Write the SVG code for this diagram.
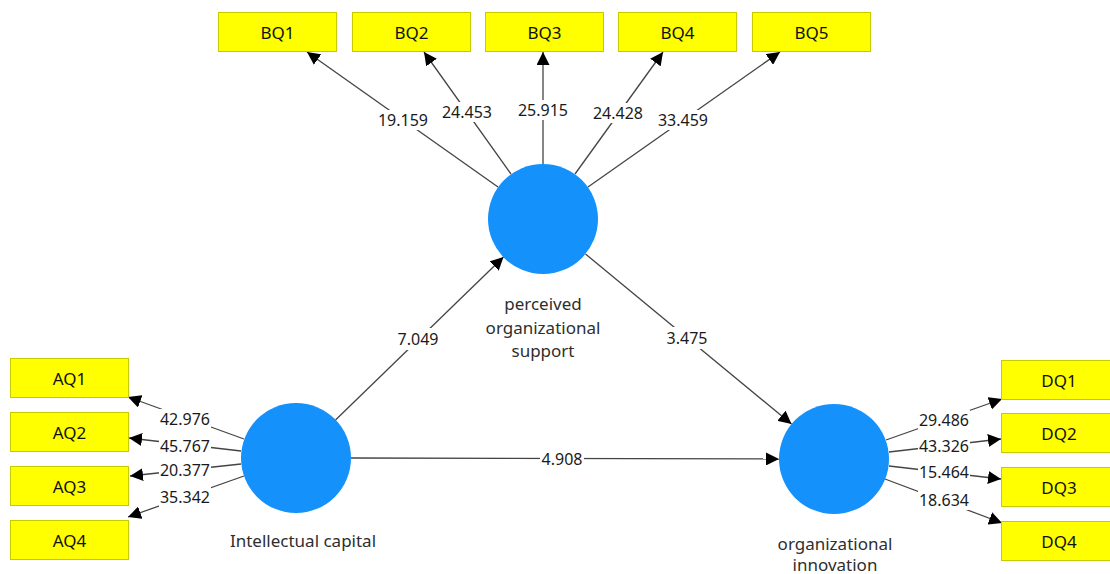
<svg xmlns="http://www.w3.org/2000/svg" width="1110" height="574" viewBox="0 0 1110 574">
<style>
.box{fill:#ffff00;stroke:#c9c900;stroke-width:1}
.bt{font-family:"Noto Sans","Open Sans",sans-serif;font-size:17px;fill:#111;text-anchor:middle;dominant-baseline:central}
.lv{fill:#1591fb}
.nm{font-family:"Noto Sans","Open Sans",sans-serif;font-size:17px;fill:#2e2e2e;text-anchor:middle;dominant-baseline:central}
.ln{stroke:#444;stroke-width:1.3;fill:none;marker-end:url(#ah)}
.lb{fill:#fff}
.lt{font-family:"Noto Sans","Open Sans",sans-serif;font-size:16px;fill:#1a1a1a;text-anchor:middle;dominant-baseline:central}
</style>
<defs>
<marker id="ah" markerWidth="13" markerHeight="13" viewBox="0 0 13 13" refX="13" refY="6.5" orient="auto" markerUnits="userSpaceOnUse"><path d="M0,0 L13,6.5 L0,13 z" fill="#000"/></marker>
</defs>
<rect width="1110" height="574" fill="#fff"/>
<g id="connectors">
<line class="ln" x1="498" y1="187" x2="307" y2="52"/>
<line class="ln" x1="511" y1="174" x2="424" y2="52"/>
<line class="ln" x1="543" y1="164" x2="543" y2="52"/>
<line class="ln" x1="575" y1="174" x2="663" y2="52"/>
<line class="ln" x1="588" y1="187" x2="780" y2="52"/>
<line class="ln" x1="244" y1="439" x2="128" y2="397"/>
<line class="ln" x1="241" y1="451" x2="129" y2="438"/>
<line class="ln" x1="241" y1="464" x2="130" y2="476"/>
<line class="ln" x1="244" y1="476" x2="128" y2="517"/>
<line class="ln" x1="886" y1="440" x2="1002" y2="399"/>
<line class="ln" x1="889" y1="452" x2="1001" y2="439"/>
<line class="ln" x1="889" y1="466" x2="1001" y2="479"/>
<line class="ln" x1="885" y1="479" x2="1002" y2="523"/>
<line class="ln" x1="335.5" y1="420" x2="503.5" y2="257"/>
<line class="ln" x1="585.5" y1="254" x2="791.5" y2="424"/>
<line class="ln" x1="351" y1="458" x2="779" y2="459"/>
<g id="labels">
<rect class="lb" x="377" y="110" width="52" height="20"/><text class="lt" x="403" y="120">19.159</text>
<rect class="lb" x="441" y="102" width="52" height="20"/><text class="lt" x="467" y="112">24.453</text>
<rect class="lb" x="517" y="100" width="52" height="20"/><text class="lt" x="543" y="110">25.915</text>
<rect class="lb" x="592" y="103" width="52" height="20"/><text class="lt" x="618" y="113">24.428</text>
<rect class="lb" x="657" y="110" width="52" height="20"/><text class="lt" x="683" y="120">33.459</text>
<rect class="lb" x="159" y="409" width="52" height="20"/><text class="lt" x="185" y="419">42.976</text>
<rect class="lb" x="159" y="436" width="52" height="20"/><text class="lt" x="185" y="446">45.767</text>
<rect class="lb" x="159" y="460" width="52" height="20"/><text class="lt" x="185" y="470">20.377</text>
<rect class="lb" x="159" y="487" width="52" height="20"/><text class="lt" x="185" y="497">35.342</text>
<rect class="lb" x="918" y="410" width="52" height="20"/><text class="lt" x="944" y="420">29.486</text>
<rect class="lb" x="918" y="436" width="52" height="20"/><text class="lt" x="944" y="446">43.326</text>
<rect class="lb" x="918" y="462" width="52" height="20"/><text class="lt" x="944" y="472">15.464</text>
<rect class="lb" x="918" y="490" width="52" height="20"/><text class="lt" x="944" y="500">18.634</text>
<rect class="lb" x="396" y="328" width="44" height="22"/><text class="lt" x="418" y="339">7.049</text>
<rect class="lb" x="665" y="327" width="44" height="22"/><text class="lt" x="687" y="338">3.475</text>
<rect class="lb" x="540" y="448" width="44" height="21"/><text class="lt" x="562" y="458.5">4.908</text>
</g>
</g>
<g id="BQ1"><rect class="box" x="218.5" y="12.5" width="118" height="39"/><text class="bt" x="277.5" y="32">BQ1</text></g>
<g id="BQ2"><rect class="box" x="352.5" y="12.5" width="118" height="39"/><text class="bt" x="411.5" y="32">BQ2</text></g>
<g id="BQ3"><rect class="box" x="485.5" y="12.5" width="118" height="39"/><text class="bt" x="544.5" y="32">BQ3</text></g>
<g id="BQ4"><rect class="box" x="618.5" y="12.5" width="118" height="39"/><text class="bt" x="677.5" y="32">BQ4</text></g>
<g id="BQ5"><rect class="box" x="752.5" y="12.5" width="118" height="39"/><text class="bt" x="811.5" y="32">BQ5</text></g>
<g id="AQ1"><rect class="box" x="10.5" y="358.5" width="118" height="39"/><text class="bt" x="69.5" y="378">AQ1</text></g>
<g id="AQ2"><rect class="box" x="10.5" y="412.5" width="118" height="39"/><text class="bt" x="69.5" y="432">AQ2</text></g>
<g id="AQ3"><rect class="box" x="10.5" y="466.5" width="118" height="39"/><text class="bt" x="69.5" y="486">AQ3</text></g>
<g id="AQ4"><rect class="box" x="10.5" y="520.5" width="118" height="39"/><text class="bt" x="69.5" y="540">AQ4</text></g>
<g id="DQ1"><rect class="box" x="1001.5" y="360.5" width="118" height="39"/><text class="bt" x="1059" y="380">DQ1</text></g>
<g id="DQ2"><rect class="box" x="1001.5" y="413.5" width="118" height="39"/><text class="bt" x="1059" y="433">DQ2</text></g>
<g id="DQ3"><rect class="box" x="1001.5" y="467.5" width="118" height="39"/><text class="bt" x="1059" y="487">DQ3</text></g>
<g id="DQ4"><rect class="box" x="1001.5" y="521.5" width="118" height="39"/><text class="bt" x="1059" y="541">DQ4</text></g>
<g id="POS"><circle class="lv" cx="543" cy="219" r="55"/><text class="nm" x="543" y="303">perceived</text><text class="nm" x="543" y="327">organizational</text><text class="nm" x="543" y="350">support</text></g>
<g id="IC"><circle class="lv" cx="296" cy="458" r="55"/><text class="nm" x="303" y="540">Intellectual capital</text></g>
<g id="OI"><circle class="lv" cx="834" cy="459" r="55"/><text class="nm" x="835" y="543">organizational</text><text class="nm" x="835" y="564">innovation</text></g>
</svg>
